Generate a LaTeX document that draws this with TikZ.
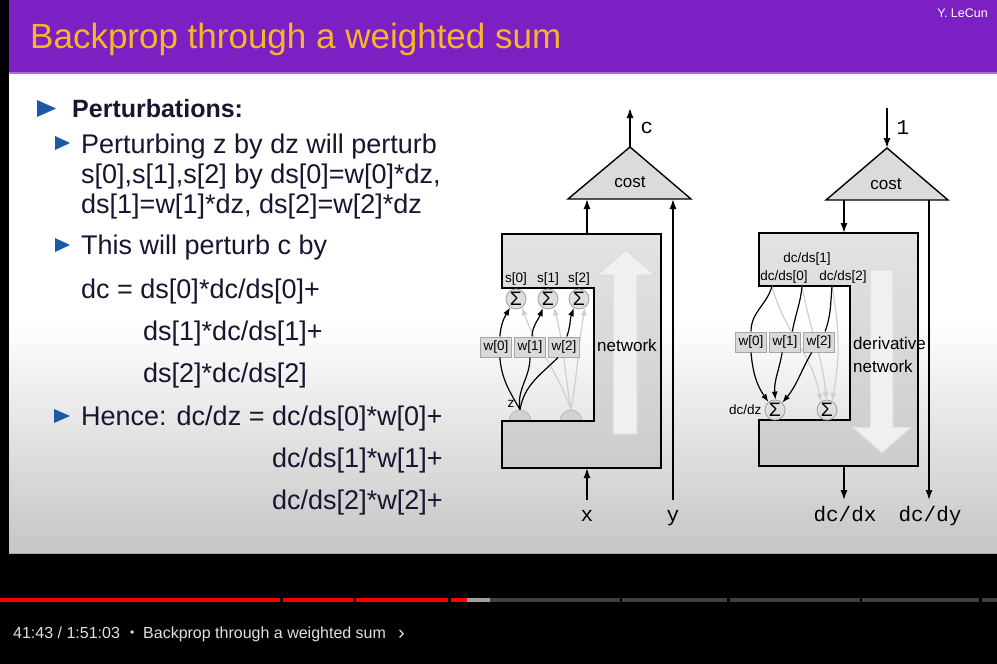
\documentclass[tikz,border=0pt]{standalone}
\usepackage{fontspec}
\setmainfont{Liberation Sans}
\newfontfamily\monofont{Liberation Mono}
\usetikzlibrary{positioning, arrows.meta}

\definecolor{slidepurple}{RGB}{124,31,195}
\definecolor{titleorange}{RGB}{247,181,41}
\definecolor{inkblue}{RGB}{22,22,48}
\definecolor{bulletblue}{RGB}{27,88,165}
\definecolor{ytred}{RGB}{255,0,0}

\begin{document}
\begin{tikzpicture}[
  x=1pt, y=-1pt,
  body/.style = {anchor=base west, inner sep=0pt, text=inkblue, font=\fontsize{27}{30}\selectfont},
  lbl/.style = {inner sep=0pt, font=\fontsize{13.5}{15}\selectfont},
  biglbl/.style = {anchor=base west, inner sep=0pt, font=\fontsize{17}{19}\selectfont},
  monolbl/.style = {anchor=base, inner sep=0pt, font=\monofont\fontsize{21}{23}\selectfont},
  sumnode/.style = {circle, draw=gray!75, fill=gray!25, line width=0.8pt, minimum size=20pt, inner sep=0pt, font=\fontsize{19.5}{20}\selectfont},
  insum/.style = {circle, draw=gray!55, fill=gray!35, line width=0.8pt, minimum size=22pt, inner sep=0pt},
  wbox/.style = {draw=gray!70, fill=gray!30, line width=1pt, minimum width=31pt, minimum height=20pt, inner sep=0pt, font=\fontsize{13.5}{15}\selectfont},
  blockfill/.style = {draw, line width=1.4pt, top color=gray!22, bottom color=gray!40},
  costtri/.style = {draw, line width=1.4pt, fill=gray!28},
  hollow/.style = {draw=gray!28, fill=gray!12, line width=1pt},
  arr/.style = {-{Latex[length=10pt, width=7pt]}, line width=1.4pt},
  warr/.style = {-{Latex[length=8pt, width=6pt]}, line width=1.2pt},
  garr/.style = {warr, color=gray!38}
]
\useasboundingbox (0,0) rectangle (997,664);

% slide and player background
\fill[black] (0,0) rectangle (997,664);
\fill[white] (9,73) rectangle (997,320);
\shade[top color=white, bottom color=gray!45] (9,320) rectangle (997,553);
\draw[gray!70, line width=1pt] (9,553) -- (997,553);
\fill[slidepurple] (9,0) rectangle (997,73);
\draw[slidepurple!65!white, line width=1.2pt] (9,73) -- (997,73);

\node[anchor=base west, inner sep=0pt, text=titleorange, font=\fontsize{35}{40}\selectfont] (title) at (30,48) {Backprop through a weighted sum};
\node[anchor=base east, inner sep=0pt, text=white, font=\fontsize{12.5}{14}\selectfont] (author) at (988,17) {Y. LeCun};

% bullets
\fill[bulletblue] (37,100) -- (56,108.5) -- (37,117) -- cycle;
\fill[bulletblue] (55,136) -- (70,143) -- (55,150) -- cycle;
\fill[bulletblue] (55,238) -- (70,245) -- (55,252) -- cycle;
\fill[bulletblue] (54,409) -- (70,416) -- (54,423) -- cycle;

\node[body, font=\fontsize{25}{28}\selectfont\bfseries] (pert) at (72,117) {Perturbations:};
\node[body] (p1) at (81,153) {Perturbing z by dz will perturb};
\node[body] (p2) at (81,183) {s[0],s[1],s[2] by ds[0]=w[0]*dz,};
\node[body] (p3) at (81,213) {ds[1]=w[1]*dz, ds[2]=w[2]*dz};
\node[body] (q1) at (81,254) {This will perturb c by};
\node[body] (e0) at (81,298) {dc = ds[0]*dc/ds[0]+};
\node[body] (e1) at (143,340) {ds[1]*dc/ds[1]+};
\node[body] (e2) at (143,382) {ds[2]*dc/ds[2]};
\node[body] (h0) at (81,425) {Hence: dc/dz = dc/ds[0]*w[0]+};
\node[body] (h1) at (272,467) {dc/ds[1]*w[1]+};
\node[body] (h2) at (272,509) {dc/ds[2]*w[2]+};

% ---- forward network ----
\node[insum] (z0) at (520,421) {};
\node[insum] (z1) at (571,421) {};
\path[blockfill] (502,234) -- (661,234) -- (661,468) -- (502,468) -- (502,421)
  -- (594,421) -- (594,288) -- (502,288) -- cycle;
\path[hollow] (613,434) -- (613,275) -- (597,275) -- (626,250) -- (655,275)
  -- (637,275) -- (637,434) -- cycle;
\node[biglbl] (net) at (597,351) {network};

\node[sumnode] (s0) at (516,299) {Σ};
\node[sumnode] (s1) at (548,299) {Σ};
\node[sumnode] (s2) at (579,299) {Σ};
\node[lbl, above=3pt of s0] (sl0) {s[0]};
\node[lbl, above=3pt of s1] (sl1) {s[1]};
\node[lbl, above=3pt of s2] (sl2) {s[2]};
\node[lbl] (zl) at (511,404) {z};

\draw[garr] (z1.north) to[out=110, in=-70] (s0.-55);   % second input
\draw[garr] (z1.north) to[out=100, in=-75] (s1.-55);
\draw[garr] (z1.north) to[out=80, in=-100] (s2.-55);

\node[wbox] (w0) at (496,347) {w[0]};
\node[wbox] (w1) at (530,347) {w[1]};
\node[wbox] (w2) at (564,347) {w[2]};

\draw[warr] (z0.north) to[out=120, in=-85] (w0.-70) (w0.70) to[out=85, in=-120] (s0.-125);
\draw[warr] (z0.north) to[out=100, in=-90] (w1.south) (w1.80) to[out=85, in=-110] (s1.-120);
\draw[warr] (z0.north) to[out=80, in=-135] (w2.-120) (w2.75) to[out=70, in=-110] (s2.-120);

% cost on top of the network
\coordinate (c1a) at (630,147);
\coordinate (c1l) at (568,199);
\coordinate (c1r) at (691,199);
\path[costtri] (c1a) -- (c1r) -- (c1l) -- cycle;
\node[biglbl, anchor=base] (cost1) at (630,187) {cost};

\coordinate (cout) at (630,108);
\coordinate (n1top) at (587,234);
\coordinate (c1in) at (587,199);
\coordinate (n1bot) at (587,468);
\coordinate (xin) at (587,500);
\coordinate (yin) at (673,500);
\coordinate (c1y) at (673,199);
\draw[arr] (c1a) -- (cout);     % c out
\draw[arr] (n1top) -- (c1in);   % network -> cost
\draw[arr] (xin) -- (n1bot);    % x in
\draw[arr] (yin) -- (c1y);      % y -> cost
\node[monolbl] (cl) at (647,133) {c};
\node[monolbl] (xl) at (587,521) {x};
\node[monolbl] (yl) at (673,521) {y};

% ---- derivative network ----
\path[blockfill] (759,233) -- (918,233) -- (918,466) -- (759,466) -- (759,420)
  -- (850,420) -- (850,286) -- (759,286) -- cycle;
\path[hollow] (870,270) -- (893,270) -- (893,427) -- (912,427) -- (882,453)
  -- (852,427) -- (870,427) -- cycle;
\node[biglbl] (der) at (853,349) {derivative};
\node[biglbl] (dnet) at (853,372) {network};

\node[lbl, anchor=base] (g1) at (807,262) {dc/ds[1]};
\node[lbl, anchor=base] (g0) at (784,280) {dc/ds[0]};
\node[lbl, anchor=base] (g2) at (843,280) {dc/ds[2]};
\coordinate (d0) at (772,286);
\coordinate (d1) at (802,286);
\coordinate (d2) at (832,286);

\node[sumnode] (r0) at (775,410) {Σ};
\node[sumnode] (r1) at (827,410) {Σ};
\node[lbl, left=3pt of r0] (dzl) {dc/dz};

\draw[garr] (d0) to[out=-75, in=100] (r1.127);
\draw[garr] (d1) to[out=-80, in=95] (r1.94);
\draw[garr] (d2) to[out=-80, in=80] (r1.60);

\node[wbox] (v0) at (751,342) {w[0]};
\node[wbox] (v1) at (785,342) {w[1]};
\node[wbox] (v2) at (819,342) {w[2]};

\draw[warr] (d0) to[out=-105, in=90] (v0.north) (v0.south) to[out=-85, in=125] (r0.129);
\draw[warr] (d1) to[out=-95, in=80] (v1.55) (v1.-105) to[out=-100, in=95] (r0.88);
\draw[warr] (d2) to[out=-95, in=70] (v2.60) (v2.-125) to[out=-120, in=50] (r0.45);

\coordinate (c2a) at (887,148);
\coordinate (c2l) at (826,200);
\coordinate (c2r) at (948,200);
\path[costtri] (c2a) -- (c2r) -- (c2l) -- cycle;
\node[biglbl, anchor=base] (cost2) at (886,189) {cost};

\coordinate (one) at (887,108);
\coordinate (c2out) at (844,200);
\coordinate (n2top) at (844,233);
\coordinate (n2bot) at (844,466);
\coordinate (dxout) at (844,500);
\coordinate (c2y) at (929,200);
\coordinate (dyout) at (929,500);
\draw[arr] (one) -- (c2a);       % seed 1
\draw[arr] (c2out) -- (n2top);   % cost -> derivative net
\draw[arr] (n2bot) -- (dxout);   % dc/dx
\draw[arr] (c2y) -- (dyout);     % dc/dy
\node[monolbl] (onel) at (903,134) {1};
\node[monolbl] (dxl) at (845,521) {dc/dx};
\node[monolbl] (dyl) at (930,521) {dc/dy};

% ---- player bar ----
\fill[ytred] (0,598) rectangle (280,602);
\fill[ytred] (283,598) rectangle (353,602);
\fill[ytred] (356,598) rectangle (448,602);
\fill[ytred] (451,598) rectangle (467,602);
\fill[gray!75] (467,598) rectangle (490,602);
\fill[black!75] (490,598) rectangle (620,602);
\fill[black!75] (622,598) rectangle (727,602);
\fill[black!75] (730,598) rectangle (860,602);
\fill[black!75] (862,598) rectangle (979,602);
\fill[black!75] (982,598) rectangle (997,602);

\node[anchor=base west, inner sep=0pt, text=white!88!black, font=\fontsize{16}{18}\selectfont] (clock) at (13,638) {41:43 / 1:51:03};
\node[anchor=base west, inner sep=0pt, text=white!88!black, font=\fontsize{12}{14}\selectfont] (dot) at (130,636) {•};
\node[anchor=base west, inner sep=0pt, text=white!88!black, font=\fontsize{16}{18}\selectfont] (chapter) at (143,638) {Backprop through a weighted sum};
\node[anchor=base west, inner sep=0pt, text=white!88!black, font=\fontsize{20}{22}\selectfont] (more) at (398,639) {›};

\end{tikzpicture}
\end{document}
